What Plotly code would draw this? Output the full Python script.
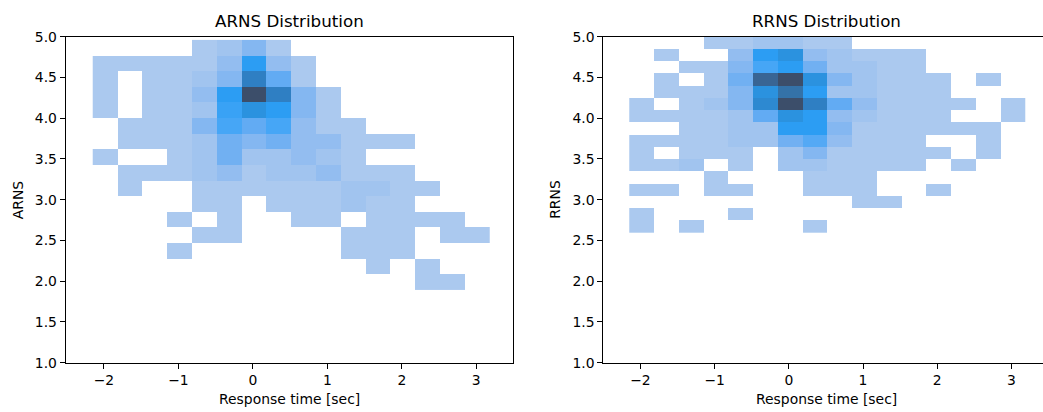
import numpy as np
import plotly.graph_objects as go

# ---- data (bin layout + counts, rows listed top -> bottom) ----
x_bin_start = -2.15
x_bin_width = 0.3333
arns_bin_start = 1.89
arns_bin_width = 0.1919
rrns_bin_start = 2.60
rrns_bin_width = 0.15

arns_counts = [
    [0, 0, 0, 0, 1, 2, 4, 1, 0, 0, 0, 0, 0, 0, 0, 0],
    [1, 1, 1, 1, 1, 3, 10, 3, 1, 0, 0, 0, 0, 0, 0, 0],
    [1, 0, 1, 1, 2, 4, 13, 6, 1, 0, 0, 0, 0, 0, 0, 0],
    [1, 0, 1, 1, 3, 10, 17, 13, 4, 1, 0, 0, 0, 0, 0, 0],
    [1, 0, 1, 1, 2, 9, 11, 10, 4, 1, 0, 0, 0, 0, 0, 0],
    [0, 1, 1, 1, 4, 8, 6, 8, 3, 1, 1, 0, 0, 0, 0, 0],
    [0, 1, 1, 1, 2, 5, 4, 5, 3, 3, 1, 1, 1, 0, 0, 0],
    [1, 0, 0, 1, 2, 5, 2, 2, 3, 2, 1, 0, 0, 0, 0, 0],
    [0, 1, 1, 1, 2, 3, 1, 2, 2, 3, 1, 1, 1, 0, 0, 0],
    [0, 1, 0, 0, 1, 1, 1, 1, 1, 1, 2, 2, 1, 1, 0, 0],
    [0, 0, 0, 0, 1, 1, 0, 1, 1, 1, 2, 1, 1, 0, 0, 0],
    [0, 0, 0, 1, 0, 1, 0, 0, 1, 1, 0, 1, 1, 1, 1, 0],
    [0, 0, 0, 0, 1, 1, 0, 0, 0, 0, 1, 1, 1, 0, 1, 1],
    [0, 0, 0, 1, 0, 0, 0, 0, 0, 0, 1, 1, 1, 0, 0, 0],
    [0, 0, 0, 0, 0, 0, 0, 0, 0, 0, 0, 1, 0, 1, 0, 0],
    [0, 0, 0, 0, 0, 0, 0, 0, 0, 0, 0, 0, 0, 1, 1, 0],
]

rrns_counts = [
    [0, 0, 0, 1, 1, 2, 2, 1, 1, 0, 0, 0, 0, 0, 0, 0],
    [0, 1, 0, 0, 3, 10, 11, 3, 2, 1, 1, 1, 0, 0, 0, 0],
    [0, 0, 1, 1, 4, 8, 10, 5, 2, 2, 1, 1, 0, 0, 0, 0],
    [0, 1, 0, 1, 5, 15, 17, 11, 4, 2, 1, 1, 1, 0, 1, 0],
    [0, 1, 1, 1, 4, 11, 14, 10, 2, 2, 1, 1, 1, 0, 0, 0],
    [1, 0, 1, 2, 4, 12, 18, 13, 6, 3, 1, 1, 1, 1, 0, 1],
    [1, 1, 1, 1, 2, 6, 11, 10, 3, 2, 1, 1, 1, 0, 0, 1],
    [0, 0, 1, 1, 2, 2, 10, 10, 4, 1, 1, 1, 1, 1, 1, 0],
    [1, 1, 1, 1, 2, 2, 5, 7, 3, 1, 1, 1, 0, 0, 1, 0],
    [1, 0, 1, 1, 1, 0, 2, 4, 1, 1, 1, 1, 1, 0, 1, 0],
    [1, 1, 2, 0, 1, 0, 2, 2, 1, 1, 1, 1, 0, 1, 0, 0],
    [0, 0, 0, 1, 0, 0, 0, 1, 1, 1, 0, 0, 0, 0, 0, 0],
    [1, 1, 0, 1, 1, 0, 0, 1, 1, 1, 0, 0, 1, 0, 0, 0],
    [0, 0, 0, 0, 0, 0, 0, 0, 0, 1, 1, 0, 0, 0, 0, 0],
    [1, 0, 0, 0, 1, 0, 0, 0, 0, 0, 0, 0, 0, 0, 0, 0],
    [1, 0, 1, 0, 0, 0, 0, 1, 0, 0, 0, 0, 0, 0, 0, 0],
]

x_tick_vals = [-2, -1, 0, 1, 2, 3]
x_tick_text = ["\u22122", "\u22121", "0", "1", "2", "3"]
y_tick_vals = [1.0, 1.5, 2.0, 2.5, 3.0, 3.5, 4.0, 4.5, 5.0]
y_tick_text = ["1.0", "1.5", "2.0", "2.5", "3.0", "3.5", "4.0", "4.5", "5.0"]

titles = ["ARNS Distribution", "RRNS Distribution"]
y_labels = ["ARNS", "RRNS"]
x_label = "Response time [sec]"

# ---- build ----
W, H = 1043, 412
FONT = "DejaVu Sans"

colorscale = [
    [0.0, "#abc9ef"],
    [1 / 16, "#a1c4ef"],
    [2 / 16, "#93bdf0"],
    [3 / 16, "#84b7f1"],
    [4 / 16, "#71b0f2"],
    [5 / 16, "#62abf3"],
    [7 / 16, "#46a6f6"],
    [9 / 16, "#2c9df3"],
    [10 / 16, "#2b92df"],
    [12 / 16, "#2f7fc3"],
    [13 / 16, "#3472a8"],
    [14 / 16, "#396594"],
    [1.0, "#3c4e6a"],
]


def prep(counts, y_start, y_width):
    z = np.array(counts, dtype=float)[::-1]  # bottom -> top
    nrow, ncol = z.shape
    xc = x_bin_start + x_bin_width * (np.arange(ncol) + 0.5)
    yc = y_start + y_width * (np.arange(nrow) + 0.5)
    zz = [[(v if v > 0 else None) for v in row] for row in z.tolist()]
    return xc, yc, zz


fig = go.Figure()
for i, (counts, ys, yw) in enumerate(
    [(arns_counts, arns_bin_start, arns_bin_width), (rrns_counts, rrns_bin_start, rrns_bin_width)]
):
    xc, yc, zz = prep(counts, ys, yw)
    fig.add_trace(
        go.Heatmap(
            x=xc, y=yc, z=zz,
            colorscale=colorscale, zmin=1, zmax=17,
            showscale=False, hoverongaps=False,
            xaxis="x" if i == 0 else "x2",
            yaxis="y" if i == 0 else "y2",
        )
    )

ydom = [1 - 362.7 / H, 1 - 36.7 / H]
axis_common = dict(
    showline=True, linecolor="black", linewidth=1,
    ticks="outside", ticklen=5, tickwidth=1, tickcolor="black",
    showgrid=False, zeroline=False, automargin=False,
    tickfont=dict(family=FONT, size=13.9, color="black"),
)

fig.update_layout(
    width=W, height=H,
    margin=dict(l=0, r=0, t=0, b=0, autoexpand=False),
    paper_bgcolor="white", plot_bgcolor="white",
    showlegend=False,
    xaxis=dict(domain=[65.7 / W, 513.3 / W], range=[-2.513, 3.497], mirror=True,
               tickvals=x_tick_vals, ticktext=x_tick_text, anchor="y", **axis_common),
    yaxis=dict(domain=ydom, range=[1.0, 5.0], mirror=True,
               tickvals=y_tick_vals, ticktext=y_tick_text, anchor="x", **axis_common),
    xaxis2=dict(domain=[603.3 / W, 1.0], range=[-2.50, 3.425], mirror=True,
                tickvals=x_tick_vals, ticktext=x_tick_text, anchor="y2", **axis_common),
    yaxis2=dict(domain=ydom, range=[1.0, 5.0], mirror=False,
                tickvals=y_tick_vals, ticktext=y_tick_text, anchor="x2", **axis_common),
)

centers = [(65.7 + 513.3) / 2, (603.3 + 1050) / 2]
annos = []
for i in range(2):
    annos.append(dict(text=titles[i], x=centers[i] / W, y=1 - 20.5 / H, xref="paper", yref="paper",
                      xanchor="center", yanchor="middle", showarrow=False,
                      font=dict(family=FONT, size=16.7, color="black")))
    annos.append(dict(text=x_label, x=centers[i] / W, y=1 - 399 / H, xref="paper", yref="paper",
                      xanchor="center", yanchor="middle", showarrow=False,
                      font=dict(family=FONT, size=13.9, color="black")))
ylab_x = [17.5, 17.5 + 537.6]
for i in range(2):
    annos.append(dict(text=y_labels[i], x=ylab_x[i] / W, y=1 - 199.7 / H, xref="paper", yref="paper",
                      xanchor="center", yanchor="middle", textangle=-90, showarrow=False,
                      font=dict(family=FONT, size=13.9, color="black")))
fig.update_layout(annotations=annos)

fig.write_html("out.html")
